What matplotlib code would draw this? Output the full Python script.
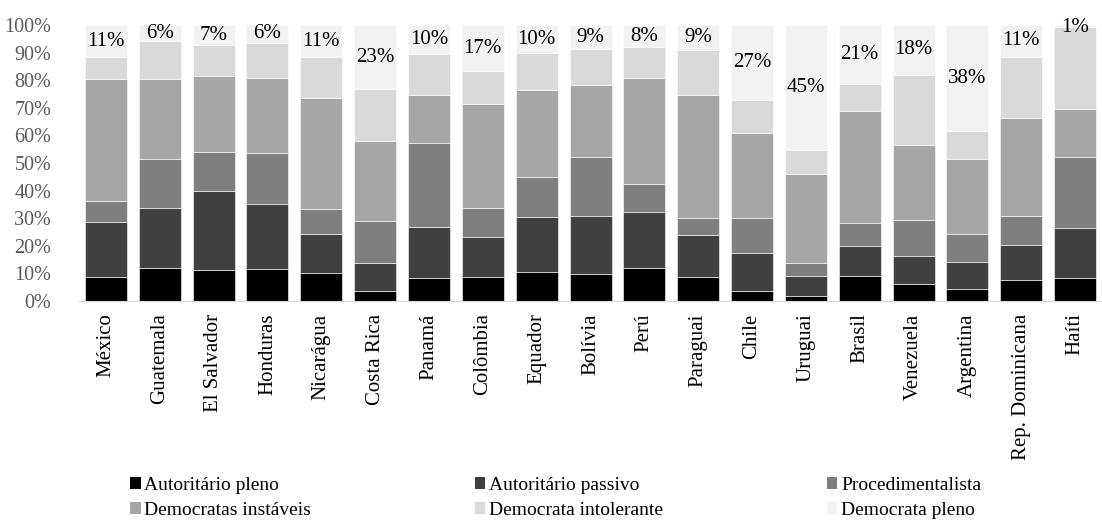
import numpy as np
import matplotlib.pyplot as plt
from matplotlib.patches import Patch

paises = ['México', 'Guatemala', 'El Salvador', 'Honduras', 'Nicarágua',
          'Costa Rica', 'Panamá', 'Colômbia', 'Equador', 'Bolívia', 'Perú',
          'Paraguai', 'Chile', 'Uruguai', 'Brasil', 'Venezuela', 'Argentina',
          'Rep. Dominicana', 'Haíti']

# shares in %
aut_pleno = [8.7, 12.1, 11.4, 11.6, 10.2, 3.6, 8.3, 8.7, 10.5, 9.8, 12.0, 8.7,
             3.6, 1.8, 9.2, 6.2, 4.2, 7.6, 8.3]
aut_passivo = [20.0, 21.6, 28.4, 23.5, 13.9, 10.1, 18.5, 14.5, 20.0, 21.0, 20.3,
               15.2, 13.7, 7.4, 10.6, 10.0, 9.8, 12.8, 18.2]
procedimental = [7.6, 17.8, 14.3, 18.6, 9.3, 15.2, 30.5, 10.5, 14.5, 21.3, 10.1,
                 6.1, 12.8, 4.5, 8.5, 13.1, 10.1, 10.3, 25.7]
instaveis = [44.0, 28.9, 27.6, 27.1, 40.0, 29.0, 17.3, 37.6, 31.4, 26.1, 38.5,
             44.6, 30.6, 32.4, 40.5, 27.2, 27.3, 35.6, 17.3]
intolerante = [8.1, 13.8, 11.0, 12.7, 15.0, 18.9, 14.9, 12.0, 13.4, 13.1, 11.1,
               16.3, 12.1, 8.6, 9.8, 25.4, 10.1, 22.2, 29.7]
dem_pleno = [11.6, 5.8, 7.3, 6.5, 11.6, 23.2, 10.5, 16.7, 10.2, 8.7, 8.0, 9.1,
             27.2, 45.3, 21.4, 18.1, 38.5, 11.5, 0.8]
rotulos = ['11%', '6%', '7%', '6%', '11%', '23%', '10%', '17%', '10%', '9%',
           '8%', '9%', '27%', '45%', '21%', '18%', '38%', '11%', '1%']

nomes = ['Autoritário pleno', 'Autoritário passivo', 'Procedimentalista',
         'Democratas instáveis', 'Democrata intolerante', 'Democrata pleno']
cores = ['#000000', '#404040', '#7f7f7f', '#a6a6a6', '#d9d9d9', '#f2f2f2']

plt.rcParams['font.family'] = ['Liberation Serif', 'DejaVu Serif']

fig = plt.figure(figsize=(11.02, 5.22), dpi=100)
ax = fig.add_axes([0.0717, 0.4234, 0.9283, 0.5287])

x = np.arange(len(paises))
series = [aut_pleno, aut_passivo, procedimental, instaveis, intolerante, dem_pleno]
base = np.zeros(len(paises))
for vals, cor, nome in zip(series, cores, nomes):
    vals = np.array(vals)
    ax.bar(x, vals, 0.78, bottom=base, color=cor, label=nome,
           edgecolor='white', linewidth=0.4)
    base = base + vals

# labels for the top segment
topo = base - np.array(dem_pleno) / 2
for xi, yi, txt in zip(x, topo, rotulos):
    if txt == '1%':
        yi = 99.0
    ax.text(xi, yi, txt, ha='center', va='center', fontsize=15, color='black')

ax.set_xlim(-0.5, len(paises) - 0.5)
ax.set_ylim(0, 100)
ax.set_yticks(np.arange(0, 101, 10))
ax.set_yticklabels([f'{v}%' for v in range(0, 101, 10)], color='#595959', fontsize=14.5)
ax.set_xticks(x)
ax.set_xticklabels(paises, rotation=90, fontsize=15)
ax.tick_params(length=0)
ax.tick_params(axis='y', pad=20)
ax.tick_params(axis='x', pad=9)
for s in ['top', 'right', 'left']:
    ax.spines[s].set_visible(False)
ax.spines['bottom'].set_color('#d9d9d9')

handles = [Patch(facecolor=c, label=n) for c, n in zip(cores, nomes)]
ordem = [0, 3, 1, 4, 2, 5]
fig.legend([handles[i] for i in ordem], [nomes[i] for i in ordem], ncol=3,
           loc='lower left', bbox_to_anchor=(0.102, -0.028), frameon=False,
           fontsize=14, handlelength=0.55, handleheight=0.55, handletextpad=0.2,
           columnspacing=8.4, labelspacing=0.42)

fig.savefig('out.png', dpi=100)
